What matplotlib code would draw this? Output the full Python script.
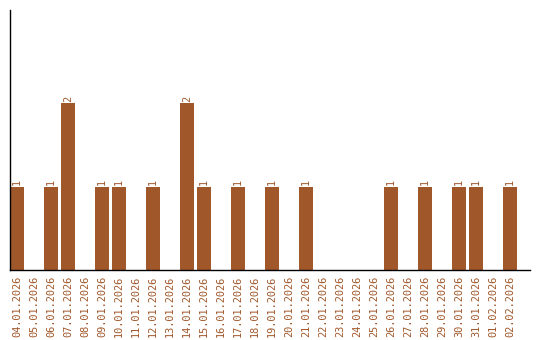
import matplotlib
matplotlib.use("Agg")
import matplotlib.pyplot as plt

dates = ["04.01.2026", "05.01.2026", "06.01.2026", "07.01.2026", "08.01.2026",
         "09.01.2026", "10.01.2026", "11.01.2026", "12.01.2026", "13.01.2026",
         "14.01.2026", "15.01.2026", "16.01.2026", "17.01.2026", "18.01.2026",
         "19.01.2026", "20.01.2026", "21.01.2026", "22.01.2026", "23.01.2026",
         "24.01.2026", "25.01.2026", "26.01.2026", "27.01.2026", "28.01.2026",
         "29.01.2026", "30.01.2026", "31.01.2026", "01.02.2026", "02.02.2026"]
counts = [1, 0, 1, 2, 0, 1, 1, 0, 1, 0, 2, 1, 0, 1, 0, 1, 0, 1, 0, 0,
          0, 0, 1, 0, 1, 0, 1, 1, 0, 1]

color = "#A0572A"
W, H = 540, 340
fig = plt.figure(figsize=(W / 100, H / 100), dpi=100)
ax = fig.add_axes([10 / W, 70 / H, 520 / W, 260 / H])

bw = 14 / 17
xs = list(range(len(dates)))
ax.bar(xs, counts, width=bw, align="edge", color=color, linewidth=0)
for x, v in zip(xs, counts):
    if v > 0:
        ax.annotate(str(v), (x + bw / 2, v), xytext=(0, 1), textcoords="offset points",
                    rotation=90, ha="center", va="bottom", color=color,
                    fontsize=7.4, family="DejaVu Sans Mono")

ax.set_xlim(0, 520 / 17)
ax.set_ylim(0, 260 / 83.5)
ax.set_xticks([x + bw / 2 for x in xs])
ax.set_xticklabels(dates, rotation=90, color=color, fontsize=7.4, family="DejaVu Sans Mono")
ax.tick_params(axis="x", length=0, pad=4)
ax.set_yticks([])
for s in ["top", "right"]:
    ax.spines[s].set_visible(False)
for s in ["left", "bottom"]:
    ax.spines[s].set_color("black")
    ax.spines[s].set_linewidth(1)

fig.savefig("out.png", dpi=100)
